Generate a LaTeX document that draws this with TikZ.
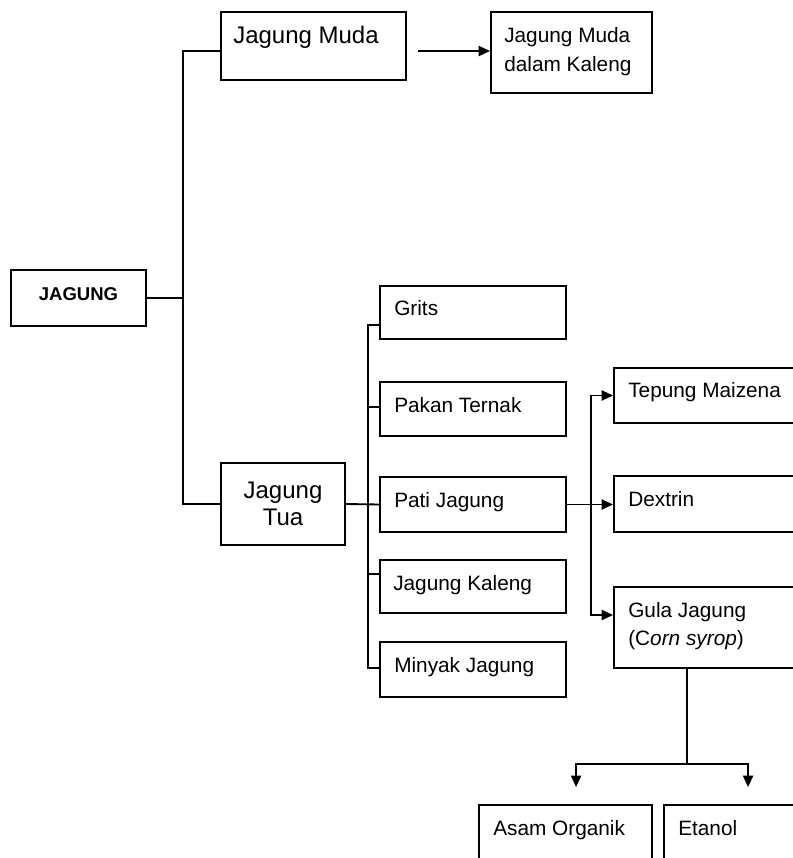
\documentclass[tikz,border=0pt]{standalone}
\usepackage{fontspec}
\setmainfont{Liberation Sans}
\usetikzlibrary{arrows.meta,calc,fit}
\begin{document}
\begin{tikzpicture}[x=0.75pt,y=-0.75pt,
  box/.style={draw, line width=1.4pt, inner sep=0pt, rectangle},
  ln/.style={line width=1.4pt},
  arr/.style={ln, -{Triangle[length=8.5pt,width=7.5pt]}},
  txt/.style={inner sep=0pt, anchor=base west, align=left, font=\fontsize{15.6}{21.75}\selectfont},
  big/.style={inner sep=0pt, anchor=base, align=center, font=\fontsize{18}{20.25}\selectfont},
]
\useasboundingbox (0,0) rectangle (793,858);
\clip (0,0) rectangle (793,858);

% boxes
\node[box, fit={(11,270)(146,326)}] (jagung) {};
\node[box, fit={(221,12)(406,80)}] (muda) {};
\node[box, fit={(491,12)(652,93)}] (kaleng) {};
\node[box, fit={(221,463)(345,545)}] (tua) {};
\node[box, fit={(380,286)(566,339)}] (grits) {};
\node[box, fit={(380,382)(566,436)}] (pakan) {};
\node[box, fit={(380,477)(566,532)}] (pati) {};
\node[box, fit={(380,560)(566,613)}] (jkaleng) {};
\node[box, fit={(380,642)(566,697)}] (minyak) {};
\node[box, fit={(614,368)(810,423)}] (tepung) {};
\node[box, fit={(614,476)(810,532)}] (dextrin) {};
\node[box, fit={(614,587)(810,668)}] (gula) {};
\node[box, fit={(479,805)(652,880)}] (asam) {};
\node[box, fit={(664,805)(810,880)}] (etanol) {};

% texts (multi-line nodes: base = last line's baseline)
\node[inner sep=0pt, anchor=base, font=\fontsize{13.9}{16}\selectfont\bfseries] (tjagung) at (78.5,300) {JAGUNG};
\node[big, anchor=base west] (tmuda) at (233,43) {Jagung Muda};
\node[txt] (tkaleng) at (504,71) {Jagung Muda\\dalam Kaleng};
\node[big] (ttua) at (283,525) {Jagung\\Tua};
\node[txt] (tgrits) at (394,315) {Grits};
\node[txt] (tpakan) at (394,412) {Pakan Ternak};
\node[txt] (tpati) at (394,507) {Pati Jagung};
\node[txt] (tjkaleng) at (393,590) {Jagung Kaleng};
\node[txt] (tminyak) at (394,672) {Minyak Jagung};
\node[txt] (ttepung) at (628,397) {Tepung Maizena};
\node[txt] (tdextrin) at (628,506) {Dextrin};
\node[txt, font=\fontsize{15.6}{21}\selectfont] (tgula) at (628,645) {Gula Jagung\\(C\textit{orn syrop})};
\node[txt] (tasam) at (493,835) {Asam Organik};
\node[txt] (tetanol) at (678,835) {Etanol};

% connectors: JAGUNG
\coordinate (b1) at (183,298);
\draw[ln] (jagung.east) -- (b1);
\draw[ln] ($(muda.west)+(0,5)$) -| (b1 |- tua.west) -- (tua.west);
\coordinate (m1) at ($(muda.east)+(11,5)$);
\draw[arr] (m1) -- (m1 -| kaleng.west);

% Jagung Tua bus
\coordinate (b2) at (368,0);
\draw[ln] (tua.east) -- (pati.west);
\coordinate (gc) at ($(grits.west)+(0,12.5)$);
\coordinate (mc) at ($(minyak.west)+(0,-1.5)$);
\coordinate (pc) at ($(pakan.west)+(0,-2)$);
\coordinate (jc) at ($(jkaleng.west)+(0,-12.5)$);
\draw[ln] (gc) -- (gc -| b2) -- (mc -| b2) -- (mc);
\draw[ln] (pc) -- (pc -| b2);
\draw[ln] (jc) -- (jc -| b2);

% Pati bus
\coordinate (b3) at (591,0);
\draw[arr] (pati.east) -- (pati.east -| dextrin.west);
\draw[arr] (pati.east -| b3) |- (tepung.west);
\coordinate (gw) at ($(gula.west)+(0,-12.5)$);
\draw[arr] (pati.east -| b3) |- (gw);

% Gula split
\coordinate (gs) at ($(gula.south west)+(74,0)$);
\coordinate (s) at ($(gs)+(0,95)$);
\draw[ln] (gs) -- (s);
\draw[arr] (s) -| ($(asam.north west)+(98,-17)$);
\draw[arr] (s) -| ($(etanol.north west)+(85,-17)$);
\end{tikzpicture}
\end{document}
